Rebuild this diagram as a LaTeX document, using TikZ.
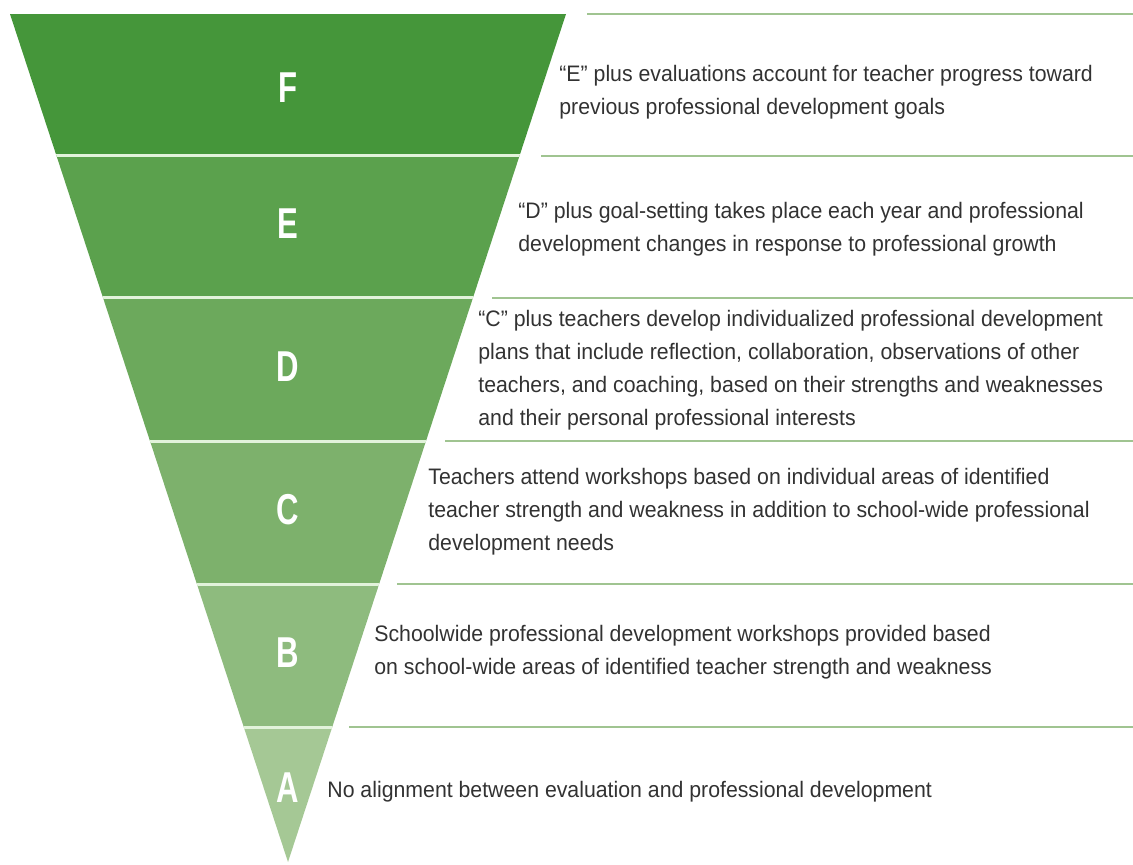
\documentclass[tikz,border=0pt]{standalone}
\usepackage{fontspec}
\setmainfont{Liberation Sans}[FakeStretch=0.95]
\newfontfamily\labfont{Liberation Sans}[FakeStretch=0.72]
\definecolor{bandF}{RGB}{69,150,58}
\definecolor{bandE}{RGB}{91,161,77}
\definecolor{bandD}{RGB}{108,169,92}
\definecolor{bandC}{RGB}{125,177,108}
\definecolor{bandB}{RGB}{142,187,126}
\definecolor{bandA}{RGB}{165,200,149}
\definecolor{sepcol}{RGB}{226,243,219}
\definecolor{rulecol}{RGB}{160,196,145}
\definecolor{txtcol}{RGB}{50,50,50}
\tikzset{
  lab/.style={text=white, font=\labfont\fontsize{21.6}{24}\bfseries, inner sep=0pt},
  desc/.style={text=txtcol, font=\fontsize{11.2}{16.5}\selectfont, align=left, anchor=west, inner sep=0pt},
  sep/.style={draw=sepcol, line width=1.5pt},
  rule/.style={draw=rulecol, line width=1.2pt}
}
\begin{document}
\begin{tikzpicture}[x=0.5pt,y=-0.5pt]
      \useasboundingbox (0,0) rectangle (1133,865);
      % funnel
      \begin{scope}
        \clip (10,14) -- (566,14) -- (288,862) -- cycle;
        \fill[bandF] (0,14) rectangle (600,156);
        \fill[bandE] (0,156) rectangle (600,298);
        \fill[bandD] (0,298) rectangle (600,441);
        \fill[bandC] (0,441) rectangle (600,584);
        \fill[bandB] (0,584) rectangle (600,727);
        \fill[bandA] (0,727) rectangle (600,870);
        \draw[sep] (0,156) -- (600,156);
        \draw[sep] (0,298) -- (600,298);
        \draw[sep] (0,441) -- (600,441);
        \draw[sep] (0,584) -- (600,584);
        \draw[sep] (0,727) -- (600,727);
      \end{scope}
      % rules on the right
      \draw[rule] (587,14) -- (1133,14);
      \draw[rule] (541,156) -- (1133,156);
      \draw[rule] (492,298) -- (1133,298);
      \draw[rule] (445,441) -- (1133,441);
      \draw[rule] (397,584) -- (1133,584);
      \draw[rule] (349,727) -- (1133,727);
      % letters
      \node[lab] (labF) at (288,88) {F};
      \node[lab] (labE) at (288,224) {E};
      \node[lab] (labD) at (288,367) {D};
      \node[lab] (labC) at (288,510) {C};
      \node[lab] (labB) at (288,653) {B};
      \node[lab] (labA) at (288,788) {A};
      % descriptions
      \node[desc] (txtF) at (559,92) {“E” plus evaluations account for teacher progress toward\\previous professional development goals};
      \node[desc] (txtE) at (518,229) {“D” plus goal-setting takes place each year and professional\\development changes in response to professional growth};
      \node[desc] (txtD) at (478,370) {“C” plus teachers develop individualized professional development\\plans that include reflection, collaboration, observations of other\\teachers, and coaching, based on their strengths and weaknesses\\and their personal professional interests};
      \node[desc] (txtC) at (428,512) {Teachers attend workshops based on individual areas of identified\\teacher strength and weakness in addition to school-wide professional\\development needs};
      \node[desc] (txtB) at (374,652) {Schoolwide professional development workshops provided based\\on school-wide areas of identified teacher strength and weakness};
      \node[desc] (txtA) at (327,792) {No alignment between evaluation and professional development};
\end{tikzpicture}
\end{document}
